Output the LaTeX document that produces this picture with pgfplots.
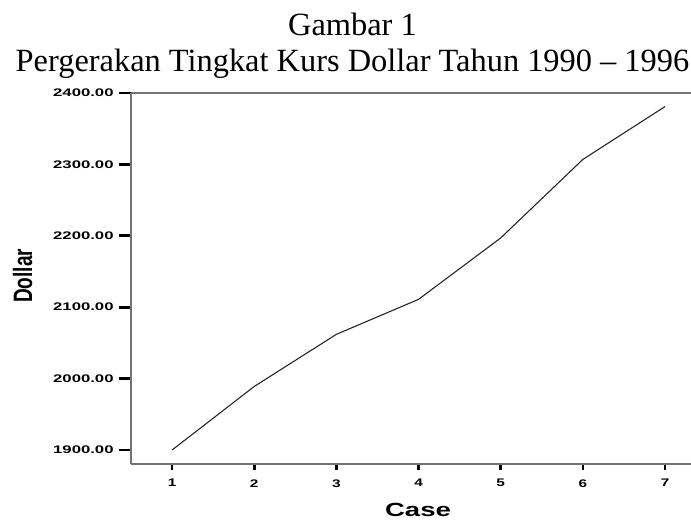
\documentclass[border=0pt]{standalone}
\usepackage{fontspec}
\setmainfont{Liberation Serif}
\newfontfamily\arialb{Liberation Sans}[BoldFont={Liberation Sans Bold}]
\usepackage{pgfplots}
\pgfplotsset{compat=1.18}
\newcommand{\tl}[2]{\scalebox{#1}[1]{\arialb\bfseries\fontsize{5.5}{6}\selectfont #2}}
\begin{document}
\begin{tikzpicture}
\useasboundingbox (-65.5pt,-28pt) rectangle (280pt,232pt);
\begin{axis}[
  at={(0,0)}, anchor=south west,
  scale only axis, width=280pt, height=185.5pt,
  xmin=0.5, xmax=7.316, ymin=1880.4, ymax=2400,
  axis x line*=bottom, axis y line*=left,
  axis line style={-, draw=black!55, line width=0.8pt},
  tick align=outside,
  major tick length=6pt,
  tick style={black, line width=1.3pt},
  xtick={1,2,3,4,5,6,7},
  xticklabels={\tl{1.4}{1},\tl{1.4}{2},\tl{1.4}{3},\tl{1.4}{4},\tl{1.4}{5},\tl{1.4}{6},\tl{1.4}{7}},
  xtick style={/pgfplots/major tick length=3pt},
  ytick={1900,2000,2100,2200,2300,2400},
  yticklabels={\tl{1.52}{1900.00},\tl{1.52}{2000.00},\tl{1.52}{2100.00},\tl{1.52}{2200.00},\tl{1.52}{2300.00},\tl{1.52}{2400.00}},
  yticklabel style={inner sep=0pt, xshift=-2.5pt},
  xticklabel style={inner sep=0pt, yshift=-1.5pt},
  clip=false,
]
\addplot[black!85, line width=0.55pt] coordinates {
  (1,1900) (2,1989) (3,2062) (4,2111) (5,2197) (6,2307) (7,2381)
};
\draw[black!55, line width=0.8pt] (rel axis cs:0,1) -- (rel axis cs:1,1);
\node[rotate=90] at (axis description cs:-0.1937,0.507)
  {\scalebox{1}[1.4]{\arialb\bfseries\fontsize{9.5}{11}\selectfont Dollar}};
\node at (axis description cs:0.5125,-0.124)
  {\scalebox{1.45}[1]{\arialb\bfseries\fontsize{9.5}{11}\selectfont Case}};
\end{axis}
\node[anchor=base] at (110.75pt,214pt) {\fontsize{16.2}{18}\selectfont Gambar 1};
\node[anchor=base] at (110.75pt,196pt) {\fontsize{16.2}{18}\selectfont Pergerakan Tingkat Kurs Dollar Tahun 1990 -- 1996};
\end{tikzpicture}
\end{document}
